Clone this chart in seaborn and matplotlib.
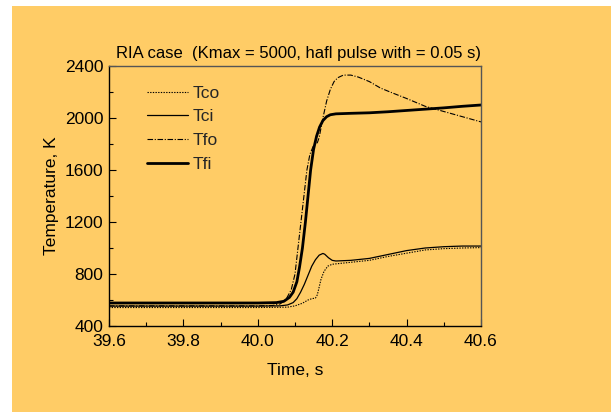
import numpy as np
import pandas as pd
import matplotlib
matplotlib.use("Agg")
import matplotlib.pyplot as plt
from matplotlib.patches import Rectangle
from matplotlib.ticker import MultipleLocator
import seaborn as sns

# ---- data ----
t_fi = [39.6, 40.0, 40.05, 40.07, 40.085, 40.095, 40.105, 40.112, 40.12, 40.128, 40.135, 40.142,
        40.15, 40.158, 40.166, 40.175, 40.185, 40.195, 40.21, 40.25, 40.3, 40.35, 40.4, 40.45,
        40.5, 40.55, 40.6]
T_fi = [577, 577, 580, 590, 620, 660, 740, 850, 1000, 1200, 1400, 1600,
        1760, 1860, 1930, 1980, 2010, 2025, 2032, 2036, 2040, 2048, 2058, 2068,
        2078, 2090, 2100]

t_fo = [39.6, 40.0, 40.04, 40.06, 40.075, 40.09, 40.1, 40.108, 40.116, 40.124, 40.132, 40.14,
        40.15, 40.16, 40.165, 40.175, 40.185, 40.195, 40.205, 40.215, 40.23, 40.25, 40.27,
        40.3, 40.33, 40.36, 40.4, 40.45, 40.5, 40.55, 40.6]
T_fo = [555, 555, 558, 570, 600, 680, 800, 1000, 1200, 1400, 1600, 1720,
        1790, 1810, 1850, 2000, 2130, 2220, 2280, 2310, 2330, 2330, 2315,
        2280, 2230, 2195, 2150, 2090, 2050, 2010, 1970]

t_ci = [39.6, 40.0, 40.06, 40.08, 40.095, 40.105, 40.115, 40.125, 40.135, 40.145, 40.155,
        40.165, 40.175, 40.18, 40.19, 40.2, 40.21, 40.25, 40.3, 40.35, 40.4, 40.45, 40.5,
        40.55, 40.6]
T_ci = [553, 553, 555, 562, 580, 610, 660, 720, 790, 860, 910,
        945, 958, 952, 925, 905, 900, 905, 920, 950, 980, 1000, 1010,
        1015, 1015]

t_co = [39.6, 40.0, 40.08, 40.1, 40.12, 40.135, 40.145, 40.155, 40.16, 40.165, 40.17,
        40.178, 40.188, 40.2, 40.25, 40.3, 40.35, 40.4, 40.45, 40.5, 40.55, 40.6]
T_co = [542, 542, 545, 555, 575, 600, 610, 615, 640, 700, 760,
        820, 860, 875, 890, 905, 935, 960, 985, 995, 1000, 1003]

x_ticks = [39.6, 39.8, 40.0, 40.2, 40.4, 40.6]
y_ticks = [400, 800, 1200, 1600, 2000, 2400]

sns.set_theme(style="ticks")
plt.rcParams['font.family'] = ['Liberation Sans', 'DejaVu Sans']

BG = "#FFCC66"
fig = plt.figure(figsize=(6.11, 4.12), dpi=100, facecolor="white")
fig.patches.append(Rectangle((12 / 611, 0), 1 - 12 / 611, 1 - 6 / 412,
                             transform=fig.transFigure, facecolor=BG,
                             edgecolor="none", zorder=-10))
ax = fig.add_axes([109 / 611, 1 - 326 / 412, 372 / 611, 260 / 412])
ax.set_facecolor(BG)

series = [
    ("Tco", t_co, T_co, dict(lw=0.8, linestyle=(0, (1.2, 1.2)))),
    ("Tci", t_ci, T_ci, dict(lw=0.9, linestyle="-")),
    ("Tfo", t_fo, T_fo, dict(lw=0.8, linestyle=(0, (5, 1.5, 1, 1.5)))),
    ("Tfi", t_fi, T_fi, dict(lw=2.0, linestyle="-")),
]
for name, t, T, st in series:
    df = pd.DataFrame({"t": t, "T": T})
    sns.lineplot(data=df, x="t", y="T", ax=ax, color="black", label=name,
                 linewidth=st["lw"], linestyle=st["linestyle"], sort=False)

ax.set_xlim(39.6, 40.6)
ax.set_ylim(400, 2400)
ax.set_xticks(x_ticks)
ax.set_xticklabels([f"{v:.1f}" for v in x_ticks])
ax.set_yticks(y_ticks)
ax.set_yticklabels([str(v) for v in y_ticks])
ax.xaxis.set_minor_locator(MultipleLocator(0.1))
ax.yaxis.set_minor_locator(MultipleLocator(200))
ax.tick_params(which="major", direction="in", length=5, width=0.8, colors="black",
               labelsize=12.5)
ax.tick_params(which="minor", direction="in", length=3, width=0.8, colors="black")
ax.tick_params(axis="x", pad=5.5)
ax.tick_params(axis="y", pad=4)
ax.tick_params(top=False, right=False, which="both")

for s in ["left", "bottom"]:
    ax.spines[s].set_color("black")
    ax.spines[s].set_linewidth(1.0)
for s in ["top", "right"]:
    ax.spines[s].set_visible(True)
    ax.spines[s].set_color("#555555")
    ax.spines[s].set_linewidth(1.0)

ax.set_xlabel("Time, s", fontsize=12.5, color="black", labelpad=10)
ax.set_ylabel("Temperature, K", fontsize=12.5, color="black", labelpad=4)
ax.set_title("RIA case  (Kmax = 5000, hafl pulse with = 0.05 s)", fontsize=12,
             color="black", pad=6, x=0.51)

leg = ax.legend(loc="upper left", bbox_to_anchor=(0.102, 0.925), frameon=False,
                fontsize=12.5, handlelength=2.35, handletextpad=0.3, labelspacing=0.5,
                borderpad=0, borderaxespad=0)

fig.savefig("out.png", dpi=100, facecolor="white")
